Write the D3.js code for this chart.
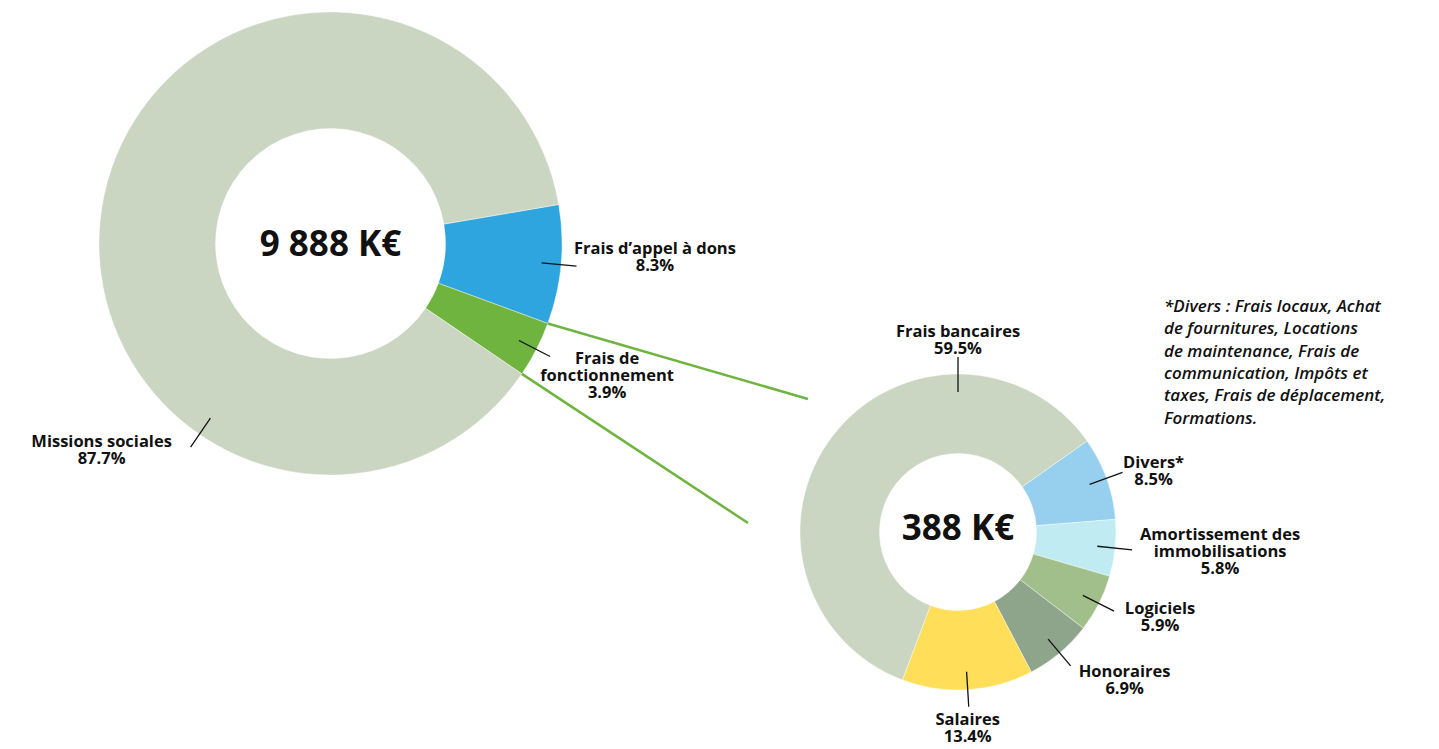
<!DOCTYPE html>
<html>
<head>
  <meta charset="utf-8">
  <script src="https://d3js.org/d3.v7.min.js"></script>
  <style>
    body { margin: 0; background: #fff; }
    svg text { font-family: "Open Sans", sans-serif; fill: #111; }
  </style>
</head>
<body>
  <svg width="1439" height="749"></svg>

  <script>
    // Data (percent shares, totals in K€)
    var bigCategories = ["Frais d’appel à dons", "Frais de\nfonctionnement", "Missions sociales"];
    var bigValues = [8.3, 3.9, 87.7];
    var bigTotal = 9888;

    var smallCategories = ["Divers*", "Amortissement des\nimmobilisations", "Logiciels", "Honoraires", "Salaires", "Frais bancaires"];
    var smallValues = [8.5, 5.8, 5.9, 6.9, 13.4, 59.5];
    var smallTotal = 388;

    var noteLines = [
      "*Divers :  Frais locaux, Achat",
      "de fournitures, Locations",
      "de maintenance, Frais de",
      "communication, Impôts et",
      "taxes, Frais de déplacement,",
      "Formations."
    ];

    // Colours
    var bigColors = ["#2ea5df", "#6eb43f", "#cad6c2"];
    var smallColors = ["#97d0ee", "#c1ebf2", "#a1bf8b", "#8ea58c", "#ffde59", "#cad6c2"];

    var rad = Math.PI / 180;
    var fr = d3.formatLocale({ decimal: ",", thousands: " ", grouping: [3], currency: ["", ""] });
    var fmtTotal = fr.format(",d");
    var fmtPct = d3.format(".1f");

    var svg = d3.select("svg");

    // Layout of both donuts: label offsets are relative to the leader end
    var big = {
      cx: 330.5, cy: 243.5, outer: 231.5, inner: 115, start: 80.3,
      leaderIn: 212, leaderOut: 247, centerSize: 35, centerDy: 0,
      labels: [
        { dx: 78.5, dy: -12 },
        { dx: 57, dy: 7 },
        { angle: 214.5, dx: -89, dy: 0 }
      ]
    };
    var small = {
      cx: 958, cy: 532, outer: 158, inner: 78.5, start: 54.8,
      leaderIn: 140, leaderOut: 175, centerSize: 35, centerDy: -5,
      labels: [
        { dx: 31, dy: -4 },
        { dx: 88, dy: -10 },
        { dx: 46, dy: 3 },
        { dx: 54, dy: 11 },
        { dx: -1, dy: 18 },
        { angle: 0, dx: 0, dy: -20 }
      ]
    };

    function polar(cfg, angleRad, r) {
      return [cfg.cx + r * Math.sin(angleRad), cfg.cy - r * Math.cos(angleRad)];
    }

    function drawDonut(cfg, categories, values, colors, total) {
      var pie = d3.pie().sort(null).value(function(d) { return d; })
        .startAngle(cfg.start * rad).endAngle(cfg.start * rad + 2 * Math.PI);
      var arcs = pie(values);
      var arc = d3.arc().innerRadius(cfg.inner).outerRadius(cfg.outer);

      var g = svg.append("g").attr("transform", "translate(" + cfg.cx + "," + cfg.cy + ")");
      g.selectAll("path")
        .data(arcs)
        .enter()
        .append("path")
        .attr("d", arc)
        .attr("fill", function(d, i) { return colors[i]; })
        .attr("stroke", "#fff")
        .attr("stroke-width", 0.4);

      g.append("text")
        .attr("text-anchor", "middle")
        .attr("y", cfg.centerDy)
        .attr("dy", "0.36em")
        .style("font-size", cfg.centerSize + "px")
        .style("font-weight", 700)
        .text(fmtTotal(total) + " K€");

      arcs.forEach(function(d, i) {
        var lay = cfg.labels[i];
        var a = lay.angle !== undefined ? lay.angle * rad : (d.startAngle + d.endAngle) / 2;
        var p1 = polar(cfg, a, cfg.leaderIn);
        var p2 = polar(cfg, a, cfg.leaderOut);
        svg.append("line")
          .attr("x1", p1[0]).attr("y1", p1[1])
          .attr("x2", p2[0]).attr("y2", p2[1])
          .attr("stroke", "#111")
          .attr("stroke-width", 1.3);

        var lines = categories[i].split("\n").concat([fmtPct(values[i]) + "%"]);
        var lh = 17;
        var y0 = p2[1] + lay.dy;
        var t = svg.append("text")
          .attr("text-anchor", "middle")
          .style("font-size", "16.5px")
          .style("font-weight", 700);
        lines.forEach(function(s, k) {
          t.append("tspan")
            .attr("x", p2[0] + lay.dx)
            .attr("y", y0 + k * lh)
            .text(s);
        });
      });

      return arcs;
    }

    var bigArcs = drawDonut(big, bigCategories, bigValues, bigColors, bigTotal);
    drawDonut(small, smallCategories, smallValues, smallColors, smallTotal);

    // Connector lines from the "Frais de fonctionnement" slice towards the detail donut
    var fonct = bigArcs[1];
    var connectorEnds = [[-150, -133], [-210, -9]];
    [fonct.startAngle, fonct.endAngle].forEach(function(a, i) {
      var p = polar(big, a, big.outer);
      svg.append("line")
        .attr("x1", p[0]).attr("y1", p[1])
        .attr("x2", small.cx + connectorEnds[i][0])
        .attr("y2", small.cy + connectorEnds[i][1])
        .attr("stroke", "#6eb43f")
        .attr("stroke-width", 2.5);
    });

    // Footnote
    var note = svg.append("text")
      .style("font-size", "17px")
      .style("font-style", "italic")
      .style("font-weight", 600);
    noteLines.forEach(function(s, k) {
      note.append("tspan")
        .attr("x", 1164)
        .attr("y", 312 + k * 22.3)
        .text(s);
    });
  </script>
</body>
</html>
